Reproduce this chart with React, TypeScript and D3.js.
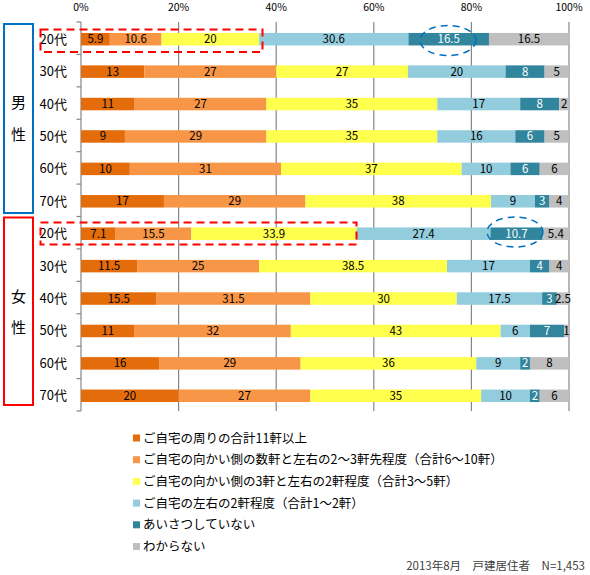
import React from "react";
import * as d3 from "d3";

const W = 590;
const H = 575;

const categories = [
  "m20", "m30", "m40", "m50", "m60", "m70",
  "f20", "f30", "f40", "f50", "f60", "f70",
];
const categoryLabels = ["20代", "30代", "40代", "50代", "60代", "70代", "20代", "30代", "40代", "50代", "60代", "70代"];

const seriesNames = [
  "ご自宅の周りの合計11軒以上",
  "ご自宅の向かい側の数軒と左右の2～3軒先程度（合計6～10軒）",
  "ご自宅の向かい側の3軒と左右の2軒程度（合計3～5軒）",
  "ご自宅の左右の2軒程度（合計1～2軒）",
  "あいさつしていない",
  "わからない",
];
const seriesColors = ["#E46C0A", "#F79646", "#FFFF4D", "#93CDDD", "#31859C", "#BFBFBF"];
const labelColors = ["#000", "#000", "#000", "#000", "#fff", "#000"];

const s1 = [5.9, 13, 11, 9, 10, 17, 7.1, 11.5, 15.5, 11, 16, 20];
const s2 = [10.6, 27, 27, 29, 31, 29, 15.5, 25, 31.5, 32, 29, 27];
const s3 = [20, 27, 35, 35, 37, 38, 33.9, 38.5, 30, 43, 36, 35];
const s4 = [30.6, 20, 17, 16, 10, 9, 27.4, 17, 17.5, 6, 9, 10];
const s5 = [16.5, 8, 8, 6, 6, 3, 10.7, 4, 3, 7, 2, 2];
const s6 = [16.5, 5, 2, 5, 6, 4, 5.4, 4, 2.5, 1, 8, 6];
const seriesValues = [s1, s2, s3, s4, s5, s6];

const xTicks = [0, 20, 40, 60, 80, 100];
const sexLabels = [["男", "性"], ["女", "性"]];
const footnote = "2013年8月　戸建居住者　N=1,453";

const FONT = "'Noto Sans CJK JP', 'Noto Sans', sans-serif";

export default function App() {
  const x = d3.scaleLinear().domain([0, 100]).range([81, 569]);
  const y = d3.scaleBand<string>().domain(categories).range([22, 411]).padding(0);
  const step = y.step();
  const barH = 12.5;

  const rows = categories.map((c, i) => {
    let acc = 0;
    const segs = seriesValues.map((vals, k) => {
      const v = vals[i];
      const seg = { k, v, x0: acc, x1: acc + v };
      acc += v;
      return seg;
    });
    return { c, i, segs };
  });

  const fmt = (v: number) => String(v);

  return (
    <svg
      width={W}
      height={H}
      style={{ position: "absolute", left: 0, top: 0, background: "#fff" }}
      fontFamily={FONT}
    >
      <rect x={0} y={0} width={W} height={H} fill="#fff" />
      {/* gridlines */}
      {xTicks.map((t) => (
        <g key={t}>
          <line x1={x(t)} x2={x(t)} y1={22} y2={411} stroke="#868686" strokeWidth={1.2} />
          <text x={x(t)} y={11} fontSize={10.5} textAnchor="middle" fill="#000">
            {t}%
          </text>
        </g>
      ))}
      {/* category ticks */}
      {d3.range(categories.length + 1).map((j) => {
        const yy = 22 + j * step;
        return <line key={j} x1={76.5} x2={81} y1={yy} y2={yy} stroke="#868686" strokeWidth={1.2} />;
      })}
      {/* bars */}
      {rows.map((r) => {
        const by = (y(r.c) as number) + (step - barH) / 2 + 1;
        return (
          <g key={r.c}>
            {r.segs.map((s) => (
              <rect
                key={s.k}
                x={x(s.x0)}
                y={by}
                width={x(s.x1) - x(s.x0)}
                height={barH}
                fill={seriesColors[s.k]}
              />
            ))}
            {r.segs.map((s) => (
              <text
                key={"t" + s.k}
                x={(x(s.x0) + x(Math.min(s.x1, 100))) / 2}
                y={by + barH / 2 + 4}
                fontSize={11.5}
                textAnchor="middle"
                fill={labelColors[s.k]}
              >
                {fmt(s.v)}
              </text>
            ))}
            <text
              x={67}
              y={(y(r.c) as number) + step / 2 + 5.5}
              fontSize={13}
              textAnchor="end"
              fill="#000"
            >
              {categoryLabels[r.i]}
            </text>
          </g>
        );
      })}
      {/* sex boxes */}
      <rect x={4} y={24} width={29} height={189} fill="none" stroke="#0070C0" strokeWidth={2} />
      <rect x={4} y={217.5} width={29} height={187.5} fill="none" stroke="#FF0000" strokeWidth={2} />
      <text x={18.5} y={108} fontSize={15} textAnchor="middle">{sexLabels[0][0]}</text>
      <text x={18.5} y={140} fontSize={15} textAnchor="middle">{sexLabels[0][1]}</text>
      <text x={18.5} y={302} fontSize={15} textAnchor="middle">{sexLabels[1][0]}</text>
      <text x={18.5} y={333} fontSize={15} textAnchor="middle">{sexLabels[1][1]}</text>
      {/* dashed highlight rectangles */}
      <rect x={40.5} y={29.5} width={222} height={22.5} fill="none" stroke="#FF0000" strokeWidth={2} strokeDasharray="8,5" />
      <rect x={40.5} y={222.5} width={316} height={22} fill="none" stroke="#FF0000" strokeWidth={2} strokeDasharray="8,5" />
      {/* dashed ellipses */}
      <ellipse cx={448} cy={40.5} rx={28} ry={15} fill="none" stroke="#0070C0" strokeWidth={1.5} strokeDasharray="7,5" />
      <ellipse cx={515} cy={232} rx={28} ry={15} fill="none" stroke="#0070C0" strokeWidth={1.5} strokeDasharray="7,5" />
      {/* legend */}
      {seriesNames.map((n, k) => {
        const ly = 438 + k * 21.7;
        return (
          <g key={n}>
            <rect x={133} y={ly - 3.5} width={7} height={7} fill={seriesColors[k]} />
            <text x={143} y={ly + 4.5} fontSize={12.5} fill="#000">
              {n}
            </text>
          </g>
        );
      })}
      <text x={585} y={570} fontSize={11.5} textAnchor="end" fill="#404040">
        {footnote}
      </text>
    </svg>
  );
}
